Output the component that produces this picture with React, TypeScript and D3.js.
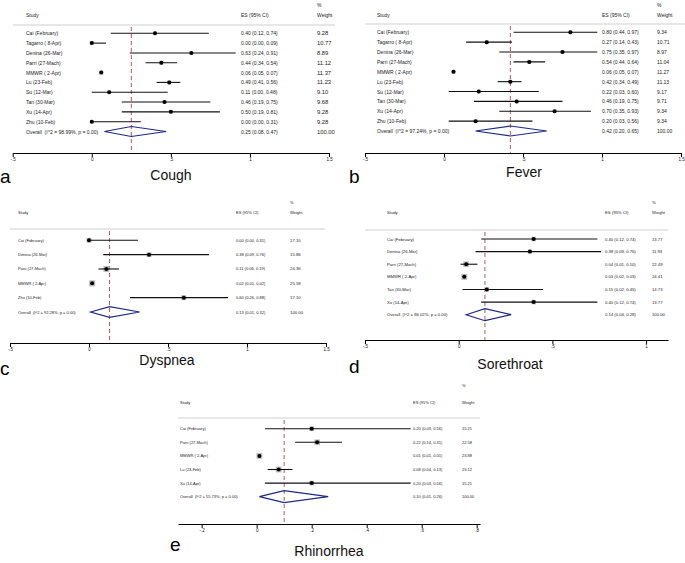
import React, { useEffect, useRef } from "react";
import * as d3 from "d3";

// ---- data ----
const coughStudies = ["Cai (February)", "Tagarro ( 8-Apr)", "Denina (26-Mar)", "Parri (27-Mach)", "MMWR ( 2-Apr)", "Lu (23-Feb)", "Su (12-Mar)", "Tan (30-Mar)", "Xu (14-Apr)", "Zhu (10-Feb)"];
const coughES = [0.4, 0.0, 0.63, 0.44, 0.06, 0.49, 0.11, 0.46, 0.5, 0.0];
const coughLo = [0.12, 0.0, 0.24, 0.34, 0.05, 0.41, 0.0, 0.19, 0.19, 0.0];
const coughHi = [0.74, 0.09, 0.91, 0.54, 0.07, 0.56, 0.48, 0.75, 0.81, 0.31];
const coughWeight = [9.28, 10.77, 8.89, 11.12, 11.37, 11.23, 9.1, 9.68, 9.28, 9.28];
const coughOverall = [0.25, 0.08, 0.47];
const coughHet = "Overall  (I^2 = 98.99%, p = 0.00)";

const feverStudies = ["Cai (February)", "Tagarro ( 8-Apr)", "Denina (26-Mar)", "Parri (27-Mach)", "MMWR ( 2-Apr)", "Lu (23-Feb)", "Su (12-Mar)", "Tan (30-Mar)", "Xu (14-Apr)", "Zhu (10-Feb)"];
const feverES = [0.8, 0.27, 0.75, 0.54, 0.06, 0.42, 0.22, 0.46, 0.7, 0.2];
const feverLo = [0.44, 0.14, 0.35, 0.44, 0.05, 0.34, 0.03, 0.19, 0.35, 0.03];
const feverHi = [0.97, 0.43, 0.97, 0.64, 0.07, 0.49, 0.6, 0.75, 0.93, 0.56];
const feverWeight = [9.34, 10.71, 8.97, 11.04, 11.27, 11.13, 9.17, 9.71, 9.34, 9.34];
const feverOverall = [0.42, 0.2, 0.65];
const feverHet = "Overall  (I^2 = 97.24%, p = 0.00)";

const dyspneaStudies = ["Cai (February)", "Denina (26-Mar)", "Parri (27-Mach)", "MMWR ( 2-Apr)", "Zhu (10-Feb)"];
const dyspneaES = [0.0, 0.38, 0.11, 0.02, 0.6];
const dyspneaLo = [0.0, 0.09, 0.06, 0.01, 0.26];
const dyspneaHi = [0.31, 0.76, 0.19, 0.02, 0.88];
const dyspneaWeight = [17.1, 15.86, 24.36, 25.58, 17.1];
const dyspneaOverall = [0.13, 0.01, 0.32];
const dyspneaHet = "Overall  (I^2 = 92.28%, p = 0.00)";

const throatStudies = ["Cai (February)", "Denina (26-Mar)", "Parri (27-Mach)", "MMWR ( 2-Apr)", "Tan (30-Mar)", "Xu (14-Apr)"];
const throatES = [0.4, 0.38, 0.04, 0.03, 0.15, 0.4];
const throatLo = [0.12, 0.09, 0.01, 0.02, 0.02, 0.12];
const throatHi = [0.74, 0.76, 0.1, 0.03, 0.45, 0.74];
const throatWeight = [13.77, 11.93, 22.49, 24.41, 14.73, 13.77];
const throatOverall = [0.14, 0.04, 0.28];
const throatHet = "Overall  (I^2 = 86.02%, p = 0.00)";

const rhinoStudies = ["Cai (February)", "Parri (27-Mach)", "MMWR ( 2-Apr)", "Lu (23-Feb)", "Xu (14-Apr)"];
const rhinoES = [0.2, 0.22, 0.01, 0.08, 0.2];
const rhinoLo = [0.03, 0.14, 0.01, 0.04, 0.03];
const rhinoHi = [0.56, 0.31, 0.01, 0.13, 0.56];
const rhinoWeight = [15.21, 22.58, 23.88, 23.12, 15.21];
const rhinoOverall = [0.1, 0.01, 0.26];
const rhinoHet = "Overall  (I^2 = 55.73%, p = 0.00)";

const wideTicks = [-0.5, 0, 0.5, 1, 1.5];
const wideTickLabels = ["-.5", "0", ".5", "1", "1.5"];
const throatTicks = [-0.5, 0, 0.5, 1];
const throatTickLabels = ["-.5", "0", ".5", "1"];
const rhinoTicks = [-0.2, 0, 0.2, 0.4, 0.6, 0.8];
const rhinoTickLabels = ["-.2", "0", ".2", ".4", ".6", ".8"];

const panels = [
  { letter: "a", title: "Cough", studies: coughStudies, es: coughES, lo: coughLo, hi: coughHi, w: coughWeight, overall: coughOverall, het: coughHet,
    ticks: wideTicks, tickLabels: wideTickLabels, domain: [-0.5, 1.5], x0: 12.7, x1: 329, axisY: 153, yFirst: 33.3, yOverall: 131.5,
    sepY: 25, sepX: [13, 335], pctY: 4.5, headY: 14.5, studyX: 26, esX: 241, wX: 317, font: 5, wFont: 5.8, half: 5,
    letterPos: [0, 183], titlePos: [171, 180] },
  { letter: "b", title: "Fever", studies: feverStudies, es: feverES, lo: feverLo, hi: feverHi, w: feverWeight, overall: feverOverall, het: feverHet,
    ticks: wideTicks, tickLabels: wideTickLabels, domain: [-0.5, 1.5], x0: 365, x1: 681, axisY: 153, yFirst: 32.3, yOverall: 131,
    sepY: 24, sepX: [365, 685], pctY: 4.5, headY: 14.5, studyX: 377, esX: 602, wX: 657, font: 5, wFont: 5, half: 5,
    letterPos: [349, 183], titlePos: [524, 177] },
  { letter: "c", title: "Dyspnea", studies: dyspneaStudies, es: dyspneaES, lo: dyspneaLo, hi: dyspneaHi, w: dyspneaWeight, overall: dyspneaOverall, het: dyspneaHet,
    ticks: wideTicks, tickLabels: wideTickLabels, domain: [-0.5, 1.5], x0: 10, x1: 326, axisY: 343, yFirst: 240.3, yOverall: 312,
    sepY: 229, sepX: [10, 325], pctY: 202, headY: 212, studyX: 18, esX: 236, wX: 290, font: 4, wFont: 4.3, half: 5.3,
    letterPos: [0, 375], titlePos: [167, 365] },
  { letter: "d", title: "Sorethroat", studies: throatStudies, es: throatES, lo: throatLo, hi: throatHi, w: throatWeight, overall: throatOverall, het: throatHet,
    ticks: throatTicks, tickLabels: throatTickLabels, domain: [-0.5, 1.117], x0: 365, x1: 668, axisY: 340, yFirst: 239, yOverall: 314.7,
    sepY: 230, sepX: [365, 668], pctY: 202, headY: 212, studyX: 387, esX: 605, wX: 652, font: 4.2, wFont: 4.2, half: 6,
    letterPos: [349, 373], titlePos: [510, 369] },
  { letter: "e", title: "Rhinorrhea", studies: rhinoStudies, es: rhinoES, lo: rhinoLo, hi: rhinoHi, w: rhinoWeight, overall: rhinoOverall, het: rhinoHet,
    ticks: rhinoTicks, tickLabels: rhinoTickLabels, domain: [-0.286, 0.812], x0: 178, x1: 480, axisY: 524, yFirst: 428.7, yOverall: 496.7,
    sepY: 418, sepX: [178, 480], pctY: 385, headY: 402, studyX: 180, esX: 413, wX: 462, font: 4, wFont: 4, half: 6,
    letterPos: [170, 551], titlePos: [329, 556] },
];

const FONT = "'Liberation Sans', Arial, Helvetica, sans-serif";
const f2 = d3.format(".2f");

const App: React.FC = () => {
  const svgRef = useRef<SVGSVGElement>(null);

  useEffect(() => {
    document.body.style.margin = "0";
    const svg = d3.select(svgRef.current);
    svg.selectAll("*").remove();

    panels.forEach((p) => {
      const g = svg.append("g").attr("font-family", FONT);
      const x = d3.scaleLinear().domain(p.domain).range([p.x0, p.x1]);
      const rows = [...p.studies, "__overall"];
      const y = d3.scalePoint().domain(rows).range([p.yFirst, p.yOverall]);

      // header
      const head = g.append("g").attr("font-size", p.font).attr("fill", "#222").attr("dominant-baseline", "central");
      head.append("text").attr("x", p.studyX).attr("y", p.headY).text("Study");
      head.append("text").attr("x", p.esX).attr("y", p.headY).text("ES (95% CI)");
      head.append("text").attr("x", p.wX).attr("y", p.pctY).text("%");
      head.append("text").attr("x", p.wX).attr("y", p.headY).text("Weight");

      g.append("line")
        .attr("x1", p.sepX[0]).attr("x2", p.sepX[1])
        .attr("y1", p.sepY).attr("y2", p.sepY)
        .attr("stroke", "#cfcfcf").attr("stroke-width", 1);

      // overall reference line
      g.append("line")
        .attr("x1", x(p.overall[0])).attr("x2", x(p.overall[0]))
        .attr("y1", p.sepY + 2).attr("y2", p.axisY)
        .attr("stroke", "#c45555").attr("stroke-width", 1)
        .attr("stroke-dasharray", "4,3");

      // studies
      p.studies.forEach((s, i) => {
        const cy = y(s) as number;
        const side = 1.2 * Math.sqrt(p.w[i]);
        g.append("rect")
          .attr("x", x(p.es[i]) - side / 2).attr("y", cy - side / 2)
          .attr("width", side).attr("height", side)
          .attr("fill", "#bdbdbd");
        g.append("line")
          .attr("x1", x(p.lo[i])).attr("x2", x(p.hi[i]))
          .attr("y1", cy).attr("y2", cy)
          .attr("stroke", "#111").attr("stroke-width", 1.1);
        g.append("circle")
          .attr("cx", x(p.es[i])).attr("cy", cy).attr("r", 2)
          .attr("fill", "#000");

        const t = g.append("g").attr("font-size", p.font).attr("fill", "#222").attr("dominant-baseline", "central");
        t.append("text").attr("x", p.studyX).attr("y", cy).style("white-space", "pre").text(s);
        t.append("text").attr("x", p.esX).attr("y", cy)
          .text(`${f2(p.es[i])} (${f2(p.lo[i])}, ${f2(p.hi[i])})`);
        t.append("text").attr("x", p.wX).attr("y", cy).attr("font-size", p.wFont).text(f2(p.w[i]));
      });

      // overall diamond
      const oy = y("__overall") as number;
      const [oe, ol, oh] = p.overall;
      g.append("path")
        .attr("d", `M${x(ol)},${oy}L${x(oe)},${oy - p.half}L${x(oh)},${oy}L${x(oe)},${oy + p.half}Z`)
        .attr("fill", "none").attr("stroke", "#1c2a8a").attr("stroke-width", 1.2);
      const ot = g.append("g").attr("font-size", p.font).attr("fill", "#222").attr("dominant-baseline", "central");
      ot.append("text").attr("x", p.studyX).attr("y", oy).style("white-space", "pre").text(p.het);
      ot.append("text").attr("x", p.esX).attr("y", oy).text(`${f2(oe)} (${f2(ol)}, ${f2(oh)})`);
      ot.append("text").attr("x", p.wX).attr("y", oy).attr("font-size", p.wFont).text(f2(100));

      // x axis
      const axis = d3.axisBottom(x)
        .tickValues(p.ticks)
        .tickFormat((_, i) => p.tickLabels[i])
        .tickSize(4)
        .tickSizeOuter(0);
      const ag = g.append("g").attr("transform", `translate(0,${p.axisY})`).call(axis);
      ag.select(".domain").attr("stroke", "#000");
      ag.selectAll(".tick line").attr("stroke", "#000");
      ag.selectAll(".tick text").attr("font-size", 4.5).attr("font-family", FONT).attr("fill", "#111").attr("dy", "0.3em");

      // panel letter and title
      g.append("text").attr("x", p.letterPos[0]).attr("y", p.letterPos[1])
        .attr("font-size", 19).attr("fill", "#000").text(p.letter);
      g.append("text").attr("x", p.titlePos[0]).attr("y", p.titlePos[1])
        .attr("text-anchor", "middle").attr("font-size", 14).attr("fill", "#111").text(p.title);
    });
  }, []);

  return <svg ref={svgRef} width={685} height={563} style={{ display: "block", background: "#fff" }} />;
};

export default App;
